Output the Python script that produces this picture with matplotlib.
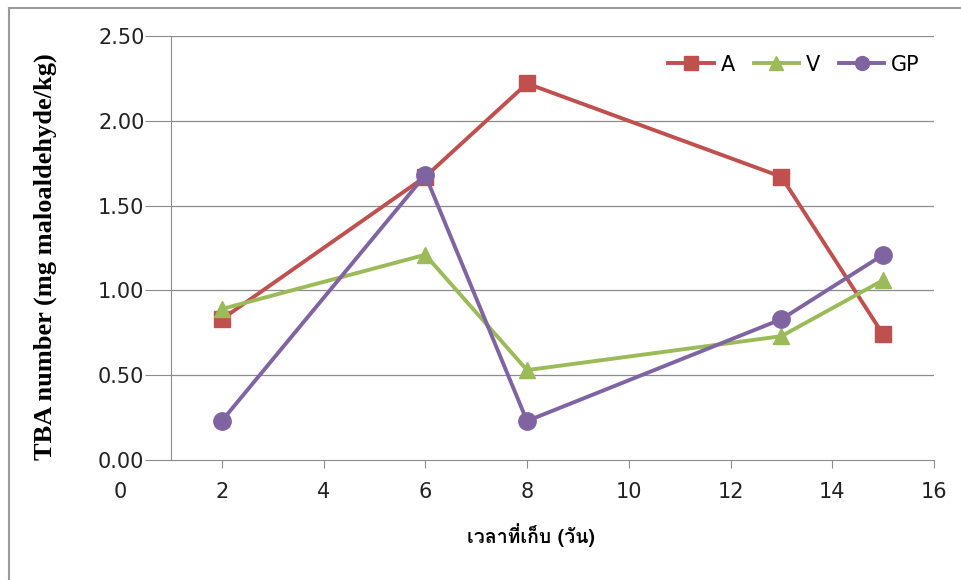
import matplotlib
matplotlib.use("Agg")
import matplotlib.pyplot as plt
from matplotlib import font_manager
from matplotlib.ft2font import FT2Font
from matplotlib.lines import Line2D

days = [2, 6, 8, 13, 15]
series_A = [0.83, 1.67, 2.22, 1.67, 0.74]
series_V = [0.89, 1.21, 0.53, 0.73, 1.06]
series_GP = [0.23, 1.68, 0.23, 0.83, 1.21]
labels = ["A", "V", "GP"]
colors = ["#C0504D", "#9BBB59", "#8064A2"]
markers = ["s", "^", "o"]
yticks = [0.0, 0.5, 1.0, 1.5, 2.0, 2.5]
xticks = [0, 2, 4, 6, 8, 10, 12, 14, 16]
ylabel = "TBA number (mg maloaldehyde/kg)"
xlabel = "เวลาที่เก็บ (วัน)"

# find a font with Thai glyphs
thai_font = None
for f in font_manager.fontManager.ttflist:
    try:
        cm = FT2Font(f.fname).get_charmap()
        if 0x0E40 in cm and 0x0E27 in cm:
            thai_font = f.name
            if f.weight in ("bold", 700):
                break
    except Exception:
        pass
thai_family = [thai_font, "DejaVu Sans"] if thai_font else ["DejaVu Sans"]

fig = plt.figure(figsize=(9.61, 5.80), dpi=100)
ax = fig.add_axes([120/961, 1-460/580, (934-120)/961, (460-36)/580])

for vals, lab, c, m, z in zip([series_A, series_V, series_GP], labels, colors, markers, [3, 4, 5]):
    ms = 12.5 if m == "o" else 12
    ax.plot(days, vals, color=c, lw=2.8, marker=m, ms=ms, mfc=c, mec=c, label=lab, zorder=z)

ax.set_xlim(0, 16)
ax.set_ylim(0, 2.5)
ax.hlines(yticks[1:], 1, 16, colors="#8c8c8c", lw=0.9, zorder=1)
for s in ["top", "right"]:
    ax.spines[s].set_visible(False)
ax.spines["left"].set_position(("data", 1))
ax.spines["left"].set_color("#8c8c8c")
ax.spines["bottom"].set_color("#8c8c8c")
ax.spines["bottom"].set_bounds(1, 16)
ax.set_yticks(yticks)
ax.set_yticklabels([f"{v:.2f}" for v in yticks])
ax.set_xticks(xticks)
ax.set_xticklabels([str(v) for v in xticks])
ax.tick_params(axis="y", length=19, color="#8c8c8c", pad=0, labelsize=15, labelcolor="#222222")
ax.tick_params(axis="x", length=6, color="#8c8c8c", pad=10, labelsize=15, labelcolor="#222222")
ax.get_xticklines()[0].set_visible(False)

ax.set_ylabel(ylabel, fontfamily="Liberation Serif", fontweight="bold", fontsize=19)
ax.yaxis.set_label_coords(-0.077, 0.48)
ax.set_xlabel(xlabel, family=thai_family, fontweight="bold", fontsize=14)
ax.xaxis.set_label_coords(0.505, -0.15)

handles = [Line2D([0], [0], color=c, lw=2.8, marker=m, ms=10, mfc=c, mec=c) for c, m in zip(colors, markers)]
leg = ax.legend(handles, labels, loc="upper right", ncol=3, frameon=False, fontsize=15,
                handlelength=2.2, columnspacing=0.9, handletextpad=0.3,
                bbox_to_anchor=(1.005, 1.0))

# outer frame (top and left edges)
fig.add_artist(Line2D([9/961, 9/961], [0, 1-8/580], color="#9a9a9a", lw=1.5, transform=fig.transFigure))
fig.add_artist(Line2D([9/961, 1], [1-8/580, 1-8/580], color="#9a9a9a", lw=1.5, transform=fig.transFigure))

fig.savefig("out.png", dpi=100)
